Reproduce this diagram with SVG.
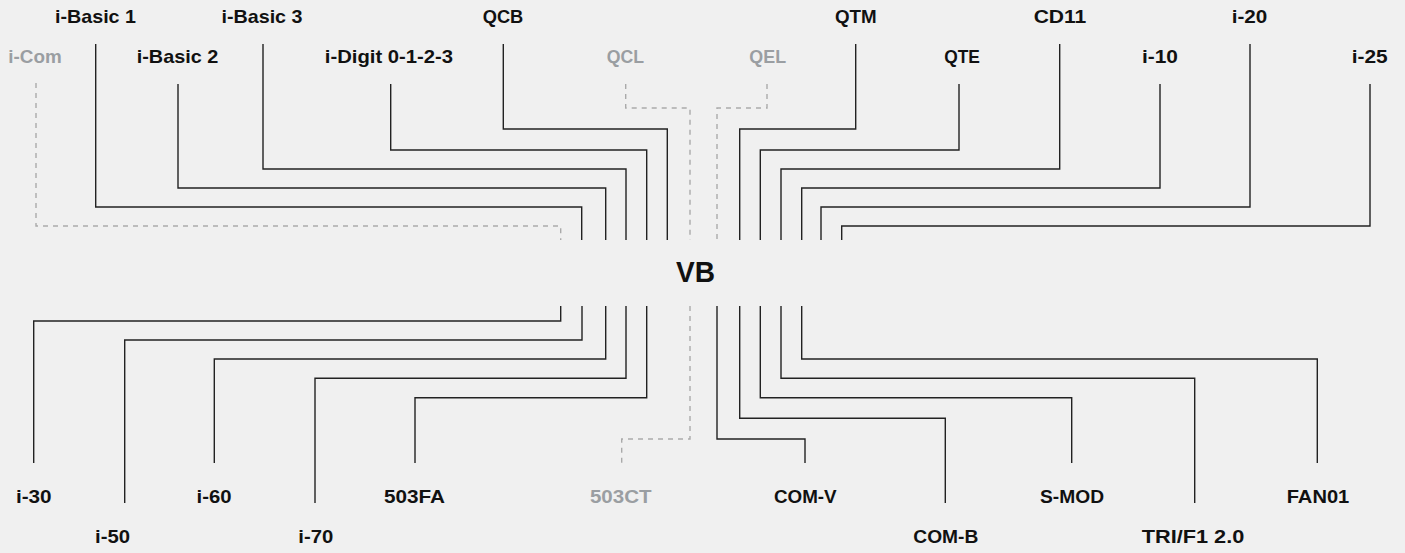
<svg xmlns="http://www.w3.org/2000/svg" width="1405" height="553" viewBox="0 0 1405 553">
<style>
.bg{fill:#f0f0f0}
.lbl{font-family:"Liberation Sans",Arial,sans-serif;font-weight:bold;font-size:19px;fill:#111;text-anchor:middle}
.off{fill:#9a9ea2}
.hub{font-family:"Liberation Sans",Arial,sans-serif;font-weight:bold;font-size:29px;fill:#111;text-anchor:middle}
.c{fill:none;stroke:#222;stroke-width:1.4}
.d{fill:none;stroke:#aaa;stroke-width:1.4;stroke-dasharray:5 5}
</style>
<rect class="bg" x="0" y="0" width="1405" height="553"/>
<g id="connectors">
<path class="d" d="M36 83V226H560.7V240"/>
<path class="c" d="M95.7 44V207H581.7V240"/>
<path class="c" d="M178 84V188H605.7V240"/>
<path class="c" d="M263 44V169H626V240"/>
<path class="c" d="M390.7 84V150H646.7V240"/>
<path class="c" d="M503.3 44V129H667.3V240"/>
<path class="d" d="M625.7 84V108H690V240"/>
<path class="d" d="M767 84V108H717V240"/>
<path class="c" d="M855.7 44V129H739.7V240"/>
<path class="c" d="M959 84V150H760.3V240"/>
<path class="c" d="M1059.7 44V169H781V240"/>
<path class="c" d="M1160 84V188H801.7V240"/>
<path class="c" d="M1250 44V207H821V240"/>
<path class="c" d="M1370 84V226H841.7V240"/>
<path class="c" d="M560.7 306V321H33.7V463"/>
<path class="c" d="M582 306V340H124.7V503"/>
<path class="c" d="M605.7 306V359H214.3V463"/>
<path class="c" d="M626 306V378.3H315V503"/>
<path class="c" d="M646.7 306V397.7H415V463"/>
<path class="d" d="M690 306V439H621.7V463"/>
<path class="c" d="M717 306V439H805V463"/>
<path class="c" d="M739.7 306V418.3H945.3V503"/>
<path class="c" d="M760.3 306V397.7H1071.7V463"/>
<path class="c" d="M781 306V378.3H1194.7V503"/>
<path class="c" d="M801.7 306V359H1317.3V463"/>
</g>
<g id="VB"><text class="hub" x="695.5" y="281.7" textLength="39" lengthAdjust="spacingAndGlyphs">VB</text></g>
<g id="i-Com"><text class="lbl off" x="35" y="63.3" textLength="53.4" lengthAdjust="spacingAndGlyphs">i-Com</text></g>
<g id="i-Basic-1"><text class="lbl" x="95.5" y="23.3" textLength="81" lengthAdjust="spacingAndGlyphs">i-Basic 1</text></g>
<g id="i-Basic-2"><text class="lbl" x="177.5" y="63.3" textLength="81.6" lengthAdjust="spacingAndGlyphs">i-Basic 2</text></g>
<g id="i-Basic-3"><text class="lbl" x="262" y="23.3" textLength="81" lengthAdjust="spacingAndGlyphs">i-Basic 3</text></g>
<g id="i-Digit"><text class="lbl" x="389" y="63.3" textLength="128.3" lengthAdjust="spacingAndGlyphs">i-Digit 0-1-2-3</text></g>
<g id="QCB"><text class="lbl" x="503" y="23.3" textLength="40.6" lengthAdjust="spacingAndGlyphs">QCB</text></g>
<g id="QCL"><text class="lbl off" x="625.3" y="63.3" textLength="37.3" lengthAdjust="spacingAndGlyphs">QCL</text></g>
<g id="QEL"><text class="lbl off" x="767.7" y="63.3" textLength="36.7" lengthAdjust="spacingAndGlyphs">QEL</text></g>
<g id="QTM"><text class="lbl" x="855.8" y="23.3" textLength="41.7" lengthAdjust="spacingAndGlyphs">QTM</text></g>
<g id="QTE"><text class="lbl" x="962" y="63.3" textLength="35.7" lengthAdjust="spacingAndGlyphs">QTE</text></g>
<g id="CD11"><text class="lbl" x="1060" y="23.3" textLength="52.7" lengthAdjust="spacingAndGlyphs">CD11</text></g>
<g id="i-10"><text class="lbl" x="1160" y="63.3" textLength="36" lengthAdjust="spacingAndGlyphs">i-10</text></g>
<g id="i-20"><text class="lbl" x="1249.5" y="23.3" textLength="35.6" lengthAdjust="spacingAndGlyphs">i-20</text></g>
<g id="i-25"><text class="lbl" x="1369.7" y="63.3" textLength="36" lengthAdjust="spacingAndGlyphs">i-25</text></g>
<g id="i-30"><text class="lbl" x="33.8" y="503.3" textLength="35.7" lengthAdjust="spacingAndGlyphs">i-30</text></g>
<g id="i-50"><text class="lbl" x="112.5" y="543.3" textLength="35" lengthAdjust="spacingAndGlyphs">i-50</text></g>
<g id="i-60"><text class="lbl" x="214" y="503.3" textLength="35" lengthAdjust="spacingAndGlyphs">i-60</text></g>
<g id="i-70"><text class="lbl" x="315.8" y="543.3" textLength="35" lengthAdjust="spacingAndGlyphs">i-70</text></g>
<g id="503FA"><text class="lbl" x="414.5" y="503.3" textLength="61" lengthAdjust="spacingAndGlyphs">503FA</text></g>
<g id="503CT"><text class="lbl off" x="620.8" y="503.3" textLength="61.7" lengthAdjust="spacingAndGlyphs">503CT</text></g>
<g id="COM-V"><text class="lbl" x="805.3" y="503.3" textLength="62.7" lengthAdjust="spacingAndGlyphs">COM-V</text></g>
<g id="COM-B"><text class="lbl" x="945.8" y="543.3" textLength="65" lengthAdjust="spacingAndGlyphs">COM-B</text></g>
<g id="S-MOD"><text class="lbl" x="1072" y="503.3" textLength="64" lengthAdjust="spacingAndGlyphs">S-MOD</text></g>
<g id="TRI-F1"><text class="lbl" x="1193" y="543.3" textLength="102.6" lengthAdjust="spacingAndGlyphs">TRI/F1 2.0</text></g>
<g id="FAN01"><text class="lbl" x="1318" y="503.3" textLength="62.6" lengthAdjust="spacingAndGlyphs">FAN01</text></g>
</svg>
